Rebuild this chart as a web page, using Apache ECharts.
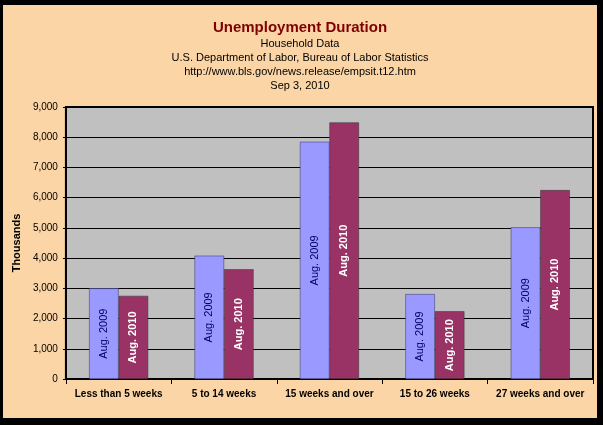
<!DOCTYPE html>
<html>
<head>
<meta charset="utf-8">
<script src="https://cdn.jsdelivr.net/npm/echarts@6/dist/echarts.min.js"></script>
<style>
  html, body { margin: 0; padding: 0; background: #000; }
  #main { position: absolute; left: 3px; top: 5px; width: 594px; height: 413px; background: #FBD5A5; }
</style>
</head>
<body>
<div id="main"></div>
<script>
// 类别与数据（千人）
const categories = ['Less than 5 weeks', '5 to 14 weeks', '15 weeks and over', '15 to 26 weeks', '27 weeks and over'];
const aug2009 = [3000, 4080, 7850, 2810, 5020];
const aug2010 = [2750, 3630, 8490, 2240, 6250];

let myChart = echarts.init(document.getElementById('main'));
let option = {
	animation: false,
	title: [{
		text: 'Unemployment Duration',
		left: 'center', top: 10,
		textStyle: {color: '#800000', fontSize: 15, fontWeight: 'bold', fontFamily: 'Liberation Sans'}
	}, {
		text: 'Household Data\nU.S. Department of Labor, Bureau of Labor Statistics\nhttp://www.bls.gov/news.release/empsit.t12.htm\nSep 3, 2010',
		left: 'center', top: 27,
		textStyle: {color: '#000', fontSize: 11, fontWeight: 'normal', lineHeight: 14, fontFamily: 'Liberation Sans'}
	}],
	grid: {left: 55, right: 4, top: 102, bottom: 39, show: true, backgroundColor: '#C0C0C0', borderColor: '#000', borderWidth: 2},
	xAxis: {
		type: 'category',
		data: categories,
		axisLine: {lineStyle: {color: '#000', width: 2}},
		axisTick: {show: true, lineStyle: {color: '#000'}},
		axisLabel: {interval: 0, color: '#000', fontSize: 10, fontWeight: 'bold', fontFamily: 'Liberation Sans', margin: 10}
	},
	yAxis: {
		type: 'value',
		min: 0, max: 9000, interval: 1000,
		name: 'Thousands',
		nameLocation: 'middle',
		nameGap: 42,
		nameTextStyle: {color: '#000', fontSize: 11, fontWeight: 'bold', fontFamily: 'Liberation Sans'},
		axisLine: {show: true, lineStyle: {color: '#000', width: 2}},
		axisTick: {show: true, length: 3, lineStyle: {color: '#000'}},
		splitLine: {lineStyle: {color: '#000', width: 1}},
		axisLabel: {color: '#000', fontSize: 10, fontFamily: 'Liberation Sans',
			formatter: v => v.toLocaleString('en-US')}
	},
	series: [{
		name: 'Aug. 2009',
		type: 'bar',
		data: aug2009,
		barGap: '0%',
		barCategoryGap: '44%',
		itemStyle: {color: '#9999FF', borderColor: '#333366', borderWidth: 0.5},
		label: {show: true, position: 'inside', rotate: 90, formatter: '{a}',
			color: '#000066', fontSize: 11, fontFamily: 'Liberation Sans'}
	}, {
		name: 'Aug. 2010',
		type: 'bar',
		data: aug2010,
		itemStyle: {color: '#993366', borderColor: '#333', borderWidth: 0.5},
		label: {show: true, position: 'inside', rotate: 90, formatter: '{a}',
			color: '#fff', fontSize: 11, fontWeight: 'bold', fontFamily: 'Liberation Sans'}
	}]
};
myChart.setOption(option);
</script>
</body>
</html>
